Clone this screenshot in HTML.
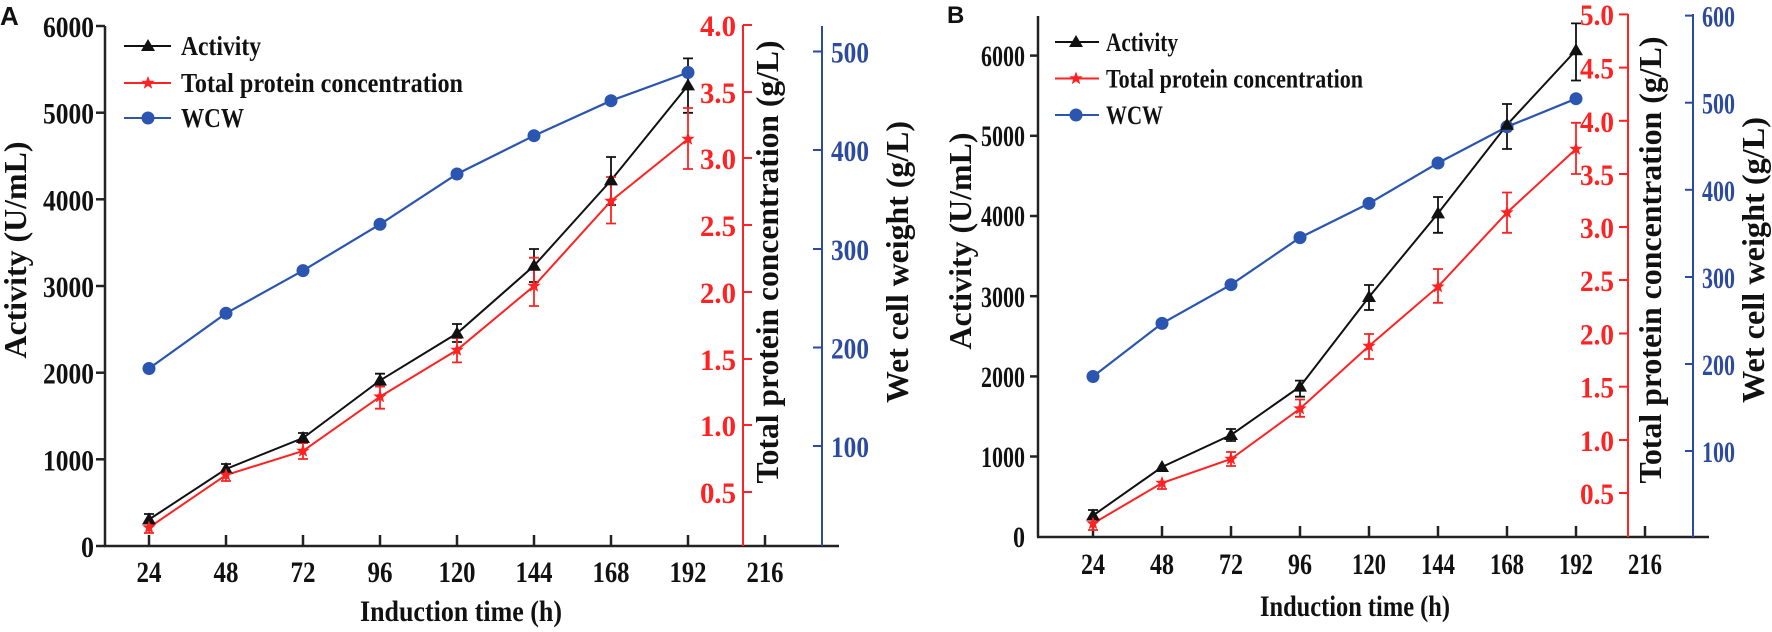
<!DOCTYPE html>
<html><head><meta charset="utf-8"><style>
html,body{margin:0;padding:0;background:#fff;}
svg{display:block;}
text{font-family:"Liberation Serif",serif;font-weight:bold;}
.k{fill:#111;} .r{fill:#f22;} .b{fill:#2c4aa0;}
</style></head><body>
<svg width="1772" height="632" viewBox="0 0 1772 632" xmlns="http://www.w3.org/2000/svg">
<defs>
<path id="tri" d="M0,-7 L7,5 L-7,5 Z" fill="#111"/>
<polygon id="star" points="0,-7 1.8,-2.3 6.7,-2.2 2.9,0.9 4.2,5.7 0,2.9 -4.2,5.7 -2.9,0.9 -6.7,-2.2 -1.8,-2.3" fill="#f22"/>
<circle id="dot" r="6.5" fill="#2a55b0"/>
</defs>

<!-- ===== PANEL A ===== -->
<text x="0" y="25" style="font-family:'Liberation Sans',sans-serif;font-weight:bold" font-size="26" fill="#111">A</text>
<g stroke="#222" stroke-width="2.5" fill="none">
<line x1="105" y1="26" x2="105" y2="546"/>
<line x1="104" y1="546" x2="839" y2="546"/>
<line x1="96" y1="26" x2="105" y2="26"/><line x1="96" y1="112.7" x2="105" y2="112.7"/><line x1="96" y1="199.3" x2="105" y2="199.3"/><line x1="96" y1="286" x2="105" y2="286"/><line x1="96" y1="372.7" x2="105" y2="372.7"/><line x1="96" y1="459.3" x2="105" y2="459.3"/><line x1="96" y1="546" x2="105" y2="546"/>
<line x1="149" y1="535" x2="149" y2="546"/><line x1="226" y1="535" x2="226" y2="546"/><line x1="303" y1="535" x2="303" y2="546"/><line x1="380" y1="535" x2="380" y2="546"/><line x1="457" y1="535" x2="457" y2="546"/><line x1="534" y1="535" x2="534" y2="546"/><line x1="611" y1="535" x2="611" y2="546"/><line x1="688" y1="535" x2="688" y2="546"/><line x1="765" y1="535" x2="765" y2="546"/>
</g>
<g class="k" font-size="30" text-anchor="end">
<text x="94" y="37" textLength="51" lengthAdjust="spacingAndGlyphs">6000</text>
<text x="94" y="123.7" textLength="51" lengthAdjust="spacingAndGlyphs">5000</text>
<text x="94" y="210.3" textLength="51" lengthAdjust="spacingAndGlyphs">4000</text>
<text x="94" y="297" textLength="51" lengthAdjust="spacingAndGlyphs">3000</text>
<text x="94" y="383.7" textLength="51" lengthAdjust="spacingAndGlyphs">2000</text>
<text x="94" y="470.3" textLength="51" lengthAdjust="spacingAndGlyphs">1000</text>
<text x="94" y="557" textLength="13" lengthAdjust="spacingAndGlyphs">0</text>
</g>
<g class="k" font-size="30" text-anchor="middle">
<text x="149" y="582" textLength="25" lengthAdjust="spacingAndGlyphs">24</text>
<text x="226" y="582" textLength="25" lengthAdjust="spacingAndGlyphs">48</text>
<text x="303" y="582" textLength="25" lengthAdjust="spacingAndGlyphs">72</text>
<text x="380" y="582" textLength="25" lengthAdjust="spacingAndGlyphs">96</text>
<text x="457" y="582" textLength="37" lengthAdjust="spacingAndGlyphs">120</text>
<text x="534" y="582" textLength="37" lengthAdjust="spacingAndGlyphs">144</text>
<text x="611" y="582" textLength="37" lengthAdjust="spacingAndGlyphs">168</text>
<text x="688" y="582" textLength="37" lengthAdjust="spacingAndGlyphs">192</text>
<text x="765" y="582" textLength="37" lengthAdjust="spacingAndGlyphs">216</text>
<text x="461" y="621" font-size="30" textLength="202" lengthAdjust="spacingAndGlyphs">Induction time (h)</text>
</g>
<text class="k" transform="translate(26,250) rotate(-90)" text-anchor="middle" font-size="32" textLength="217" lengthAdjust="spacingAndGlyphs">Activity (U/mL)</text>
<!-- red axis A -->
<g stroke="#f22" stroke-width="2">
<line x1="743" y1="25" x2="743" y2="546"/>
<line x1="743" y1="25" x2="752" y2="25"/><line x1="743" y1="92" x2="752" y2="92"/><line x1="743" y1="158" x2="752" y2="158"/><line x1="743" y1="225" x2="752" y2="225"/><line x1="743" y1="292" x2="752" y2="292"/><line x1="743" y1="359" x2="752" y2="359"/><line x1="743" y1="425" x2="752" y2="425"/><line x1="743" y1="492" x2="752" y2="492"/>
</g>
<g class="r" font-size="30" text-anchor="end">
<text x="736" y="36" textLength="36" lengthAdjust="spacingAndGlyphs">4.0</text>
<text x="736" y="103" textLength="36" lengthAdjust="spacingAndGlyphs">3.5</text>
<text x="736" y="169" textLength="36" lengthAdjust="spacingAndGlyphs">3.0</text>
<text x="736" y="236" textLength="36" lengthAdjust="spacingAndGlyphs">2.5</text>
<text x="736" y="303" textLength="36" lengthAdjust="spacingAndGlyphs">2.0</text>
<text x="736" y="370" textLength="36" lengthAdjust="spacingAndGlyphs">1.5</text>
<text x="736" y="436" textLength="36" lengthAdjust="spacingAndGlyphs">1.0</text>
<text x="736" y="503" textLength="36" lengthAdjust="spacingAndGlyphs">0.5</text>
</g>
<text class="k" transform="translate(778,262) rotate(-90)" text-anchor="middle" font-size="32" textLength="443" lengthAdjust="spacingAndGlyphs">Total protein concentration (g/L)</text>
<!-- blue axis A -->
<g stroke="#2c4aa0" stroke-width="2">
<line x1="822" y1="26" x2="822" y2="546"/>
<line x1="813" y1="51.5" x2="822" y2="51.5"/><line x1="813" y1="150" x2="822" y2="150"/><line x1="813" y1="249" x2="822" y2="249"/><line x1="813" y1="347.5" x2="822" y2="347.5"/><line x1="813" y1="446" x2="822" y2="446"/>
</g>
<g class="b" font-size="30">
<text x="831" y="62.5" textLength="38" lengthAdjust="spacingAndGlyphs">500</text>
<text x="831" y="161" textLength="38" lengthAdjust="spacingAndGlyphs">400</text>
<text x="831" y="260" textLength="38" lengthAdjust="spacingAndGlyphs">300</text>
<text x="831" y="358.5" textLength="38" lengthAdjust="spacingAndGlyphs">200</text>
<text x="831" y="457" textLength="38" lengthAdjust="spacingAndGlyphs">100</text>
</g>
<text class="k" transform="translate(908,262) rotate(-90)" text-anchor="middle" font-size="32" textLength="282" lengthAdjust="spacingAndGlyphs">Wet cell weight (g/L)</text>
<!-- series A -->
<polyline fill="none" stroke="#2a55b0" stroke-width="2.2" points="149,368.5 226,313.3 303,270.6 380,224.3 457,174 534,135.7 611,100.7 688,72.5"/>
<g stroke="#111" stroke-width="1.8" fill="none">
<path d="M688,58.4V112.8M683,58.4h10M683,112.8h10 M611,157V205M606,157h10M606,205h10 M534,249V282M529,249h10M529,282h10 M457,324V342M452,324h10M452,342h10 M380,373.7V386.6M375,373.7h10M375,386.6h10 M303,433V443M298,433h10M298,443h10 M226,464V474M221,464h10 M149,514V524M144,514h10"/>
</g>
<polyline fill="none" stroke="#111" stroke-width="2" points="149,519.5 226,469 303,438 380,380.5 457,333.4 534,265.8 611,180.4 688,85.4"/>
<g stroke="#f22" stroke-width="1.8" fill="none">
<path d="M688,108V169M683,108h10M683,169h10 M611,177V223.5M606,177h10M606,223.5h10 M534,257.7V306M529,257.7h10M529,306h10 M457,338V362.4M452,338h10M452,362.4h10 M380,386.6V408.7M375,386.6h10M375,408.7h10 M303,443V459M298,443h10M298,459h10 M226,470V481M221,481h10 M149,522V533M144,533h10"/>
</g>
<polyline fill="none" stroke="#f22" stroke-width="2" points="149,527.5 226,475 303,451 380,396.7 457,350 534,286 611,201 688,139"/>
<g>
<use href="#dot" x="149" y="368.5"/><use href="#dot" x="226" y="313.3"/><use href="#dot" x="303" y="270.6"/><use href="#dot" x="380" y="224.3"/><use href="#dot" x="457" y="174"/><use href="#dot" x="534" y="135.7"/><use href="#dot" x="611" y="100.7"/><use href="#dot" x="688" y="72.5"/>
<use href="#tri" x="149" y="519.5"/><use href="#tri" x="226" y="469"/><use href="#tri" x="303" y="438"/><use href="#tri" x="380" y="380.5"/><use href="#tri" x="457" y="333.4"/><use href="#tri" x="534" y="265.8"/><use href="#tri" x="611" y="180.4"/><use href="#tri" x="688" y="85.4"/>
<use href="#star" x="149" y="527.5"/><use href="#star" x="226" y="475"/><use href="#star" x="303" y="451"/><use href="#star" x="380" y="396.7"/><use href="#star" x="457" y="350"/><use href="#star" x="534" y="286"/><use href="#star" x="611" y="201"/><use href="#star" x="688" y="139"/>
</g>
<!-- legend A -->
<line x1="124" y1="46" x2="171" y2="46" stroke="#111" stroke-width="2"/><use href="#tri" x="148" y="46"/>
<line x1="124" y1="83" x2="171" y2="83" stroke="#f22" stroke-width="2"/><use href="#star" x="148" y="83"/>
<line x1="124" y1="118" x2="171" y2="118" stroke="#2a55b0" stroke-width="2"/><use href="#dot" x="148" y="118"/>
<g class="k" font-size="27">
<text x="181" y="55" textLength="80" lengthAdjust="spacingAndGlyphs">Activity</text>
<text x="181" y="92" textLength="282" lengthAdjust="spacingAndGlyphs">Total protein concentration</text>
<text x="181" y="127" textLength="63" lengthAdjust="spacingAndGlyphs">WCW</text>
</g>

<!-- ===== PANEL B ===== -->
<text x="947" y="23" style="font-family:'Liberation Sans',sans-serif;font-weight:bold" font-size="24" fill="#111">B</text>
<g stroke="#222" stroke-width="2.5" fill="none">
<line x1="1038" y1="16" x2="1038" y2="537"/>
<line x1="1037" y1="537" x2="1709" y2="537"/>
<line x1="1030" y1="55.6" x2="1038" y2="55.6"/><line x1="1030" y1="135.8" x2="1038" y2="135.8"/><line x1="1030" y1="216" x2="1038" y2="216"/><line x1="1030" y1="296.2" x2="1038" y2="296.2"/><line x1="1030" y1="376.4" x2="1038" y2="376.4"/><line x1="1030" y1="456.5" x2="1038" y2="456.5"/>
<line x1="1093" y1="526" x2="1093" y2="537"/><line x1="1162" y1="526" x2="1162" y2="537"/><line x1="1231" y1="526" x2="1231" y2="537"/><line x1="1300" y1="526" x2="1300" y2="537"/><line x1="1369" y1="526" x2="1369" y2="537"/><line x1="1438" y1="526" x2="1438" y2="537"/><line x1="1507" y1="526" x2="1507" y2="537"/><line x1="1576" y1="526" x2="1576" y2="537"/><line x1="1645" y1="526" x2="1645" y2="537"/>
</g>
<g class="k" font-size="30" text-anchor="end">
<text x="1025" y="66" textLength="44" lengthAdjust="spacingAndGlyphs">6000</text>
<text x="1025" y="146" textLength="44" lengthAdjust="spacingAndGlyphs">5000</text>
<text x="1025" y="226" textLength="44" lengthAdjust="spacingAndGlyphs">4000</text>
<text x="1025" y="307" textLength="44" lengthAdjust="spacingAndGlyphs">3000</text>
<text x="1025" y="387" textLength="44" lengthAdjust="spacingAndGlyphs">2000</text>
<text x="1025" y="467" textLength="44" lengthAdjust="spacingAndGlyphs">1000</text>
<text x="1025" y="547" textLength="12" lengthAdjust="spacingAndGlyphs">0</text>
</g>
<g class="k" font-size="30" text-anchor="middle">
<text x="1093" y="574" textLength="24" lengthAdjust="spacingAndGlyphs">24</text>
<text x="1162" y="574" textLength="24" lengthAdjust="spacingAndGlyphs">48</text>
<text x="1231" y="574" textLength="24" lengthAdjust="spacingAndGlyphs">72</text>
<text x="1300" y="574" textLength="24" lengthAdjust="spacingAndGlyphs">96</text>
<text x="1369" y="574" textLength="34" lengthAdjust="spacingAndGlyphs">120</text>
<text x="1438" y="574" textLength="34" lengthAdjust="spacingAndGlyphs">144</text>
<text x="1507" y="574" textLength="34" lengthAdjust="spacingAndGlyphs">168</text>
<text x="1576" y="574" textLength="34" lengthAdjust="spacingAndGlyphs">192</text>
<text x="1645" y="574" textLength="34" lengthAdjust="spacingAndGlyphs">216</text>
<text x="1355" y="616" font-size="30" textLength="190" lengthAdjust="spacingAndGlyphs">Induction time (h)</text>
</g>
<text class="k" transform="translate(971,241) rotate(-90)" text-anchor="middle" font-size="32" textLength="217" lengthAdjust="spacingAndGlyphs">Activity (U/mL)</text>
<g stroke="#f22" stroke-width="2">
<line x1="1628" y1="14" x2="1628" y2="537"/>
<line x1="1619" y1="14.4" x2="1628" y2="14.4"/><line x1="1619" y1="67.6" x2="1628" y2="67.6"/><line x1="1619" y1="120.8" x2="1628" y2="120.8"/><line x1="1619" y1="174" x2="1628" y2="174"/><line x1="1619" y1="227" x2="1628" y2="227"/><line x1="1619" y1="280" x2="1628" y2="280"/><line x1="1619" y1="333.5" x2="1628" y2="333.5"/><line x1="1619" y1="386.7" x2="1628" y2="386.7"/><line x1="1619" y1="440" x2="1628" y2="440"/><line x1="1619" y1="493" x2="1628" y2="493"/>
</g>
<g class="r" font-size="30" text-anchor="end">
<text x="1614" y="25" textLength="34" lengthAdjust="spacingAndGlyphs">5.0</text>
<text x="1614" y="78.6" textLength="34" lengthAdjust="spacingAndGlyphs">4.5</text>
<text x="1614" y="131.8" textLength="34" lengthAdjust="spacingAndGlyphs">4.0</text>
<text x="1614" y="185" textLength="34" lengthAdjust="spacingAndGlyphs">3.5</text>
<text x="1614" y="238" textLength="34" lengthAdjust="spacingAndGlyphs">3.0</text>
<text x="1614" y="291" textLength="34" lengthAdjust="spacingAndGlyphs">2.5</text>
<text x="1614" y="344.5" textLength="34" lengthAdjust="spacingAndGlyphs">2.0</text>
<text x="1614" y="397.7" textLength="34" lengthAdjust="spacingAndGlyphs">1.5</text>
<text x="1614" y="451" textLength="34" lengthAdjust="spacingAndGlyphs">1.0</text>
<text x="1614" y="504" textLength="34" lengthAdjust="spacingAndGlyphs">0.5</text>
</g>
<text class="k" transform="translate(1661,260) rotate(-90)" text-anchor="middle" font-size="32" textLength="447" lengthAdjust="spacingAndGlyphs">Total protein concentration (g/L)</text>
<g stroke="#2c4aa0" stroke-width="2">
<line x1="1693" y1="14" x2="1693" y2="537"/>
<line x1="1685" y1="15.6" x2="1693" y2="15.6"/><line x1="1685" y1="102.7" x2="1693" y2="102.7"/><line x1="1685" y1="189.8" x2="1693" y2="189.8"/><line x1="1685" y1="277" x2="1693" y2="277"/><line x1="1685" y1="364" x2="1693" y2="364"/><line x1="1685" y1="451" x2="1693" y2="451"/>
</g>
<g class="b" font-size="30">
<text x="1702" y="26.6" textLength="33" lengthAdjust="spacingAndGlyphs">600</text>
<text x="1702" y="113.7" textLength="33" lengthAdjust="spacingAndGlyphs">500</text>
<text x="1702" y="200.8" textLength="33" lengthAdjust="spacingAndGlyphs">400</text>
<text x="1702" y="288" textLength="33" lengthAdjust="spacingAndGlyphs">300</text>
<text x="1702" y="375" textLength="33" lengthAdjust="spacingAndGlyphs">200</text>
<text x="1702" y="462" textLength="33" lengthAdjust="spacingAndGlyphs">100</text>
</g>
<text class="k" transform="translate(1764,260) rotate(-90)" text-anchor="middle" font-size="32" textLength="286" lengthAdjust="spacingAndGlyphs">Wet cell weight (g/L)</text>
<!-- series B -->
<polyline fill="none" stroke="#2a55b0" stroke-width="2.2" points="1093,376.5 1162,323.4 1231,284.7 1300,237.6 1369,203.4 1438,163 1507,126.8 1576,98.7"/>
<g stroke="#111" stroke-width="1.8" fill="none">
<path d="M1576,23.4V80.5M1571,23.4h10M1571,80.5h10 M1507,104V149M1502,104h10M1502,149h10 M1438,197V232.8M1433,197h10M1433,232.8h10 M1369,285V310M1364,285h10M1364,310h10 M1300,380.6V396.7M1295,380.6h10M1295,396.7h10 M1231,429V441M1226,429h10M1226,441h10 M1093,510V521M1088,510h10"/>
</g>
<polyline fill="none" stroke="#111" stroke-width="2" points="1093,515.5 1162,467 1231,435 1300,386.6 1369,297 1438,213.4 1507,124.8 1576,50.3"/>
<g stroke="#f22" stroke-width="1.8" fill="none">
<path d="M1576,122.8V174M1571,122.8h10M1571,174h10 M1507,192.5V232.8M1502,192.5h10M1502,232.8h10 M1438,269V302.8M1433,269h10M1433,302.8h10 M1369,334V359M1364,334h10M1364,359h10 M1300,399.5V416.8M1295,399.5h10M1295,416.8h10 M1231,452V466M1226,452h10M1226,466h10 M1162,478V489M1157,489h10 M1093,518V530M1088,530h10"/>
</g>
<polyline fill="none" stroke="#f22" stroke-width="2" points="1093,523.5 1162,483 1231,459 1300,408.7 1369,346 1438,286.7 1507,212.6 1576,149"/>
<g>
<use href="#dot" x="1093" y="376.5"/><use href="#dot" x="1162" y="323.4"/><use href="#dot" x="1231" y="284.7"/><use href="#dot" x="1300" y="237.6"/><use href="#dot" x="1369" y="203.4"/><use href="#dot" x="1438" y="163"/><use href="#dot" x="1507" y="126.8"/><use href="#dot" x="1576" y="98.7"/>
<use href="#tri" x="1093" y="515.5"/><use href="#tri" x="1162" y="467"/><use href="#tri" x="1231" y="435"/><use href="#tri" x="1300" y="386.6"/><use href="#tri" x="1369" y="297"/><use href="#tri" x="1438" y="213.4"/><use href="#tri" x="1507" y="124.8"/><use href="#tri" x="1576" y="50.3"/>
<use href="#star" x="1093" y="523.5"/><use href="#star" x="1162" y="483"/><use href="#star" x="1231" y="459"/><use href="#star" x="1300" y="408.7"/><use href="#star" x="1369" y="346"/><use href="#star" x="1438" y="286.7"/><use href="#star" x="1507" y="212.6"/><use href="#star" x="1576" y="149"/>
</g>
<line x1="1055" y1="42" x2="1099" y2="42" stroke="#111" stroke-width="2"/><use href="#tri" x="1076" y="42"/>
<line x1="1055" y1="78.5" x2="1099" y2="78.5" stroke="#f22" stroke-width="2"/><use href="#star" x="1076" y="78.5"/>
<line x1="1055" y1="115" x2="1099" y2="115" stroke="#2a55b0" stroke-width="2"/><use href="#dot" x="1076" y="115"/>
<g class="k" font-size="26">
<text x="1106" y="51" textLength="72" lengthAdjust="spacingAndGlyphs">Activity</text>
<text x="1106" y="87.5" textLength="257" lengthAdjust="spacingAndGlyphs">Total protein concentration</text>
<text x="1106" y="124" textLength="57" lengthAdjust="spacingAndGlyphs">WCW</text>
</g>
</svg>
</body></html>
